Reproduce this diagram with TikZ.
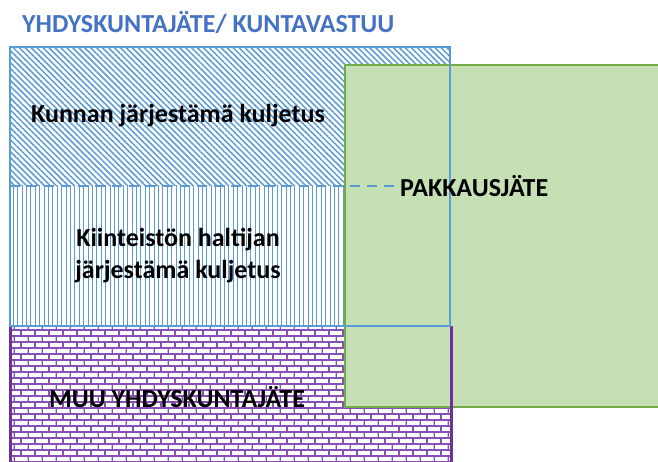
\documentclass[tikz,border=0pt]{standalone}
\usepackage{fontspec}
\setmainfont{Carlito}
\usepackage{tikz}
\usetikzlibrary{patterns.meta}

\definecolor{framblue}{RGB}{91,155,213}
\definecolor{titleblue}{RGB}{68,114,196}
\definecolor{muupurple}{RGB}{112,48,160}
\definecolor{brickpurple}{RGB}{135,80,180}
\definecolor{pakfill}{RGB}{197,224,180}
\definecolor{pakline}{RGB}{112,173,71}

\pgfdeclarepattern{
  name=tiilet,
  type=uncolored,
  bottom left={\pgfpoint{-.5pt}{-.5pt}},
  top right={\pgfpoint{14.5pt}{12.5pt}},
  tile size={\pgfpoint{14pt}{12pt}},
  code={
    \pgfsetlinewidth{1.1pt}
    \pgfpathmoveto{\pgfpoint{0pt}{0pt}}\pgfpathlineto{\pgfpoint{14pt}{0pt}}
    \pgfpathmoveto{\pgfpoint{0pt}{6pt}}\pgfpathlineto{\pgfpoint{14pt}{6pt}}
    \pgfpathmoveto{\pgfpoint{0pt}{0pt}}\pgfpathlineto{\pgfpoint{0pt}{6pt}}
    \pgfpathmoveto{\pgfpoint{7pt}{6pt}}\pgfpathlineto{\pgfpoint{7pt}{12pt}}
    \pgfusepath{stroke}
  }
}

\begin{document}
\begin{tikzpicture}[x=1pt, y=-1pt,
  lbl/.style={font=\fontsize{26}{32}\selectfont\bfseries, text=black, align=center, inner sep=0pt}]
  \path[use as bounding box, clip] (0,0) rectangle (658,462);
  % alueet
  \fill[white, pattern={Lines[angle=-45, distance=4.2pt, line width=1.5pt]}, pattern color=framblue]
    (10,47) rectangle (450,186);
  \fill[pattern={Lines[angle=90, distance=4.4pt, line width=0.9pt]}, pattern color=framblue]
    (10,186) rectangle (450,326);
  \fill[pattern=tiilet, pattern color=brickpurple] (10,326) rectangle (452,470);
  \filldraw[fill=pakfill, draw=pakline, line width=2.4pt] (345,65) rectangle (680,407);
  % reunat
  \draw[muupurple, line width=3pt] (10,326) -- (10,470);
  \draw[muupurple, line width=3pt] (451,326) -- (451,470);
  \draw[framblue, line width=2.8pt] (10,47) rectangle (450,326);
  % tekstit
  \node[font=\fontsize{26}{30}\selectfont\bfseries, text=titleblue, anchor=west, inner sep=0pt] (otsikko) at (22,23)
    {YHDYSKUNTAJÄTE/ KUNTAVASTUU};
  \node[lbl] (kunta) at (178,116) {Kunnan järjestämä kuljetus};
  \node[lbl] (haltija) at (178,256) {Kiinteistön haltijan\\järjestämä kuljetus};
  \node[lbl] (muu) at (177,397) {MUU YHDYSKUNTAJÄTE};
  \node[lbl, anchor=west] (pakkaus) at (400,186) {PAKKAUSJÄTE};
  \coordinate (raja) at (10,186);
  \draw[framblue, line width=2.6pt, dash pattern=on 10pt off 7pt] (raja) -- (pakkaus.west);
\end{tikzpicture}
\end{document}
